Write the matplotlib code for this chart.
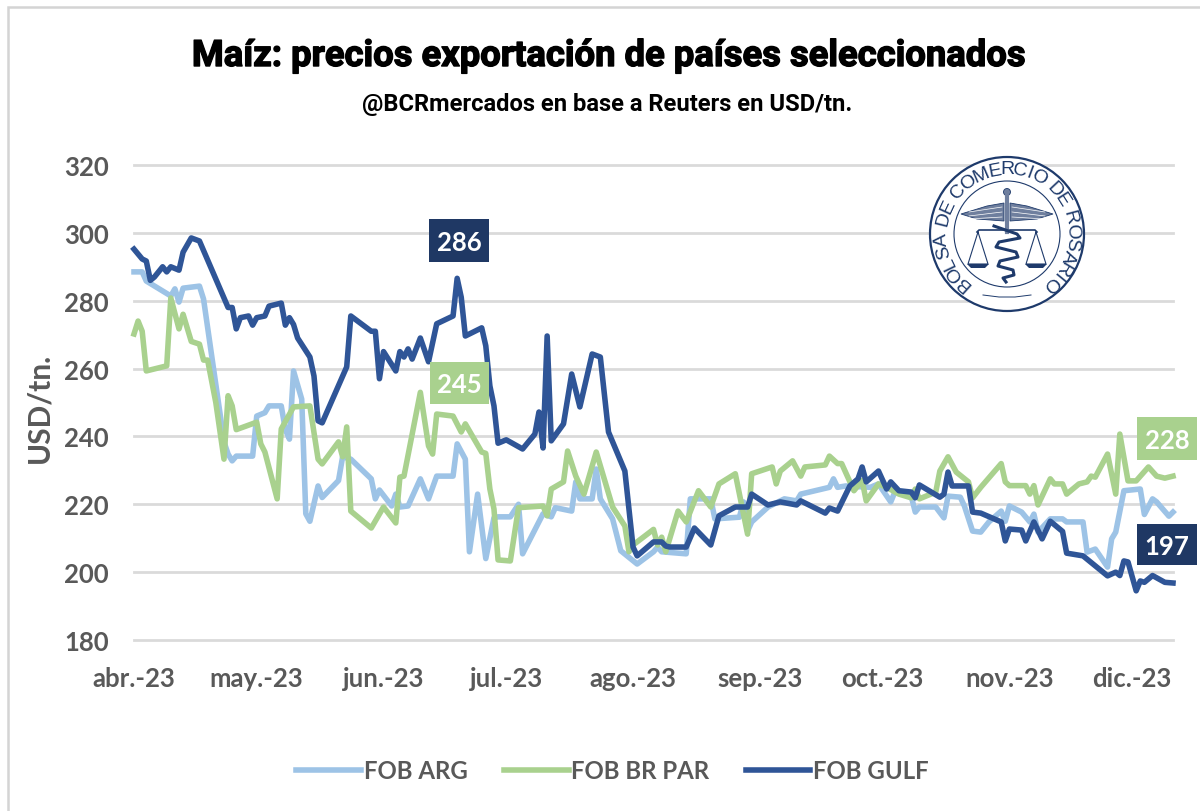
import matplotlib

matplotlib.use('Agg')
import matplotlib.pyplot as plt
import numpy as np
import pandas as pd
from matplotlib.patches import Circle, Polygon, Rectangle
import matplotlib.patheffects as pe

# Datos: dias desde el 1-abr-2023 y precio en USD/tn.
dias_arg = [0, 2, 3, 9, 10, 11, 12, 16, 17, 19, 21, 22, 23, 24, 25, 29, 30, 32, 33, 36,
            37, 38, 39, 41, 42, 43, 45, 46, 50, 51, 53, 58, 59, 60, 63, 64, 65, 67, 70, 72,
            74, 78, 79, 81, 82, 84, 86, 88, 89, 92, 94, 95, 100, 102, 103, 107, 108, 109, 112, 113,
            114, 117, 119, 123, 127, 128, 129, 135, 136, 141, 142, 148, 149, 150, 151, 155, 159, 162, 163, 170,
            171, 172, 174, 180, 182, 185, 186, 190, 191, 192, 196, 198, 199, 202, 203, 205, 207, 209, 212, 213,
            214, 217, 219, 220, 221, 224, 227, 228, 232, 233, 235, 238, 239, 240, 242, 246, 247, 249, 250, 253,
            254]
vals_arg = [288.5, 288.5, 285.8, 281.4, 283.5, 279.6, 283.7, 284.3, 280.5, 263.7, 247, 238.4, 234.8, 232.8, 234.2, 234.2, 246, 247, 249, 249,
            242, 239.2, 259.3, 251, 217.2, 215, 225.4, 222, 227, 234, 233.3, 227.5, 221.6, 224.2, 219.5, 223, 219.2, 219.5, 227.5, 221.6,
            228.3, 228.3, 237.8, 233.3, 206, 223, 204, 216, 216.3, 216.3, 220, 205.4, 217.2, 216.3, 219, 218, 226.6, 221.6, 221.6, 230.4,
            221.6, 215.7, 206.3, 202.4, 206, 207.4, 206, 205.4, 221.6, 221.6, 215.7, 216.2, 220.7, 212.1, 214.8, 219.2, 221.6, 221, 223, 225,
            227.5, 225, 225.4, 225, 226, 220.7, 223.6, 222.4, 217.7, 219.2, 219.2, 216, 222.4, 222.1, 219.5, 212.1, 211.8, 214.8, 218, 215,
            219.5, 217.7, 214.8, 217.1, 211.8, 215.7, 215.7, 214.8, 214.8, 205.9, 206.8, 201.5, 209.8, 211.8, 224, 224.5, 217, 221.6, 220.7, 216.5,
            217.7]

dias_br = [0, 1, 2, 3, 8, 9, 11, 12, 14, 16, 17, 18, 20, 22, 23, 24, 25, 30, 31, 32,
           35, 36, 39, 43, 45, 46, 50, 51, 52, 53, 58, 61, 64, 65, 66, 70, 72, 73, 74, 78,
           80, 81, 85, 86, 87, 88, 89, 92, 94, 100, 101, 102, 105, 106, 108, 110, 113, 117, 120, 121,
           122, 127, 128, 129, 130, 133, 135, 138, 141, 143, 147, 150, 151, 156, 157, 158, 161, 163, 164, 169,
           170, 172, 173, 176, 178, 179, 182, 184, 187, 190, 191, 192, 196, 197, 199, 201, 204, 205, 207, 212,
           213, 214, 218, 219, 220, 221, 224, 225, 227, 228, 231, 233, 234, 235, 238, 240, 241, 243, 245, 248,
           250, 252, 254]
vals_br = [270.2, 274, 271, 259.3, 260.8, 280.8, 271.7, 276, 268, 267.2, 262.5, 262.5, 250, 233.3, 252, 249, 242, 244.2, 237.8, 235.4,
           221.6, 242.2, 248.7, 249, 233.3, 231.9, 238.4, 234, 242.8, 218, 213, 219.2, 214.5, 228, 228.3, 253, 237.2, 234.8, 246.6, 246,
           241.3, 243.7, 235.4, 235, 224.5, 218.6, 203.6, 203.3, 219, 219.5, 216.6, 224.5, 226.6, 235.7, 228.3, 223, 235.4, 219.2, 213.6, 206,
           208, 212.6, 208, 210.3, 206, 218, 214.8, 224, 219.2, 226, 229, 211.2, 229, 231, 226, 229.8, 232.8, 228.3, 231, 231.6,
           234.2, 232, 232, 224, 227, 221, 226, 225, 223, 221.9, 224.5, 221.6, 223.6, 229.8, 234, 229.5, 226.6, 221.9, 225, 232,
           226.6, 225.5, 225.5, 223, 225.5, 219.8, 227.5, 226, 226, 223, 226, 226.6, 228.3, 228, 234.8, 223, 240.7, 226.9, 226.9, 231,
           228.3, 227.7, 228.3]

dias_gulf = [0, 2, 3, 4, 5, 7, 8, 9, 11, 12, 14, 16, 23, 24, 25, 26, 28, 29, 30, 32,
             33, 36, 37, 38, 39, 40, 43, 44, 45, 46, 52, 53, 58, 59, 60, 61, 64, 65, 66, 67,
             68, 70, 72, 74, 78, 79, 80, 81, 85, 86, 87, 88, 89, 91, 95, 98, 99, 100, 101, 102,
             105, 107, 109, 112, 114, 116, 120, 122, 123, 127, 129, 130, 131, 135, 137, 141, 143, 147, 150, 151,
             155, 158, 162, 163, 169, 170, 172, 175, 177, 178, 179, 182, 184, 185, 187, 190, 191, 192, 197, 198,
             199, 200, 204, 205, 207, 212, 213, 214, 217, 218, 220, 222, 224, 227, 228, 232, 238, 240, 241, 242,
             243, 245, 246, 247, 249, 252, 254]
vals_gulf = [295.2, 292.3, 291.7, 286, 287, 290, 288.5, 290, 289, 294.3, 298.5, 297.6, 278, 278, 271.7, 275, 275.5, 272.8, 275, 275.5,
             278.4, 279.3, 272.8, 275, 273, 269, 263.4, 257.8, 244.6, 244, 260.5, 275.5, 271, 271, 257, 265, 259.3, 265, 263.4, 265.8,
             262.8, 269, 262, 273.2, 275.5, 286.6, 281, 269.6, 272, 266.7, 254.9, 249, 238, 239, 236.3, 240.7, 247.2, 236.6, 269.6, 238.7,
             243.7, 258.4, 248.7, 264.3, 263.4, 241.3, 229.8, 207.4, 204.8, 208.9, 208.9, 207.7, 207.4, 207.4, 213, 208, 216.6, 219.2, 219.2, 223,
             219.8, 220.7, 219.8, 221, 217.4, 218.9, 218, 225.4, 227.5, 231, 226.6, 229.8, 224.5, 226.6, 224, 223.6, 221.9, 225.7, 222.1, 223,
             229.5, 225.4, 225.4, 217.7, 217.4, 214.8, 209.2, 212.7, 212.4, 209.2, 214.8, 209.8, 215, 212, 205.6, 204.8, 198.9, 200, 199, 203.3,
             203, 194.5, 197.4, 197, 199, 197, 196.8]

etiquetas_series = ['FOB ARG', 'FOB BR PAR', 'FOB GULF']
meses = ['2023-04-01', '2023-05-01', '2023-06-01', '2023-07-01', '2023-08-01',
         '2023-09-01', '2023-10-01', '2023-11-01', '2023-12-01']
etiquetas_meses = ['abr.-23', 'may.-23', 'jun.-23', 'jul.-23', 'ago.-23',
                   'sep.-23', 'oct.-23', 'nov.-23', 'dic.-23']
ticks_y = [180, 200, 220, 240, 260, 280, 300, 320]

titulo = 'Maíz: precios exportación de países seleccionados'
subtitulo = '@BCRmercados en base a Reuters en USD/tn.'
logo_texto = 'BOLSA DE COMERCIO DE ROSARIO'

C_ARG = '#9DC3E6'
C_BR = '#A9D18E'
C_GULF = '#2F5597'
C_NAVY = '#1F3864'
C_TXT = '#595959'
FUENTE = ['Lato', 'DejaVu Sans']
ANGOSTA = ['Roboto', 'Liberation Sans', 'DejaVu Sans']

W, H = 1200, 812
inicio = pd.Timestamp('2023-04-01')


def fechas(dias):
    return inicio + pd.to_timedelta(dias, unit='D')


def fx(px):
    return px / W


def fy(py):
    return 1 - py / H


fig = plt.figure(figsize=(W / 100, H / 100), dpi=100, facecolor='white')

# marco gris de la imagen original
fig.add_artist(Rectangle((fx(7.5), fy(H + 10)), 1.2, fy(7.5) - fy(H + 10), transform=fig.transFigure,
                         fill=False, edgecolor='#D4D4D4', linewidth=1.8))

ax = fig.add_axes([fx(134), fy(641), fx(1173 - 134), fy(166) - fy(641)])
ax.plot(fechas(dias_arg), vals_arg, color=C_ARG, lw=4.0, label=etiquetas_series[0], solid_joinstyle='round', clip_on=False, zorder=3)
ax.plot(fechas(dias_br), vals_br, color=C_BR, lw=4.0, label=etiquetas_series[1], solid_joinstyle='round', clip_on=False, zorder=4)
ax.plot(fechas(dias_gulf), vals_gulf, color=C_GULF, lw=4.0, label=etiquetas_series[2], solid_joinstyle='round', clip_on=False, zorder=5)

ax.set_xlim(inicio, fechas(254))
ax.set_ylim(180, 320)
ax.set_yticks(ticks_y)
ax.set_xticks(pd.to_datetime(meses))
ax.set_xticklabels(etiquetas_meses)
ax.tick_params(length=0, labelsize=18.5, labelcolor=C_TXT)
ax.tick_params(axis='y', pad=18)
ax.tick_params(axis='x', pad=19)
for lab in ax.get_xticklabels() + ax.get_yticklabels():
    lab.set_fontfamily(FUENTE)
    lab.set_fontweight('bold')
ax.grid(axis='y', color='#DADADA', lw=2.0, zorder=0)
ax.set_axisbelow(True)
for s in ax.spines.values():
    s.set_visible(False)
for gl in ax.get_ygridlines():
    gl.set_clip_on(False)

fig.text(fx(39), fy(408), 'USD/tn.', rotation=90, ha='center', va='center', color=C_TXT,
         fontsize=21.5, fontweight='bold', family=FUENTE)

leg = ax.legend(loc='center', bbox_to_anchor=(0.4605, (641 - 771.5) / 475), ncol=3, frameon=False,
                prop={'family': FUENTE, 'weight': 'bold', 'size': 17.3}, labelcolor=C_TXT,
                handlelength=2.7, handletextpad=0.12, columnspacing=1.5, borderpad=0)

t = fig.text(fx(608.5), fy(57), titulo, ha='center', va='center', color='black',
             fontsize=26.2, fontweight='bold', family=ANGOSTA)
t.set_path_effects([pe.withStroke(linewidth=1.0, foreground='black')])
fig.text(fx(607), fy(105), subtitulo, ha='center', va='center', color='black',
         fontsize=17.1, fontweight='bold', family=ANGOSTA)


def caja(x0, y0, x1, y1, texto, color):
    fig.add_artist(Rectangle((fx(x0), fy(y1)), fx(x1 - x0), fy(y0) - fy(y1), transform=fig.transFigure,
                             facecolor=color, edgecolor='none', zorder=6))
    fig.text(fx((x0 + x1) / 2), fy((y0 + y1) / 2 + 1.5), texto, ha='center', va='center', color='white',
             fontsize=18.5, fontweight='bold', family=FUENTE, zorder=7)


caja(429, 220, 489, 263, '286', C_NAVY)
caja(430, 363, 489, 405, '245', C_BR)
caja(1137, 418, 1197, 461, '228', C_BR)
caja(1137, 525, 1197, 566, '197', C_NAVY)

# sello de la Bolsa, en unidades de pixel respecto del centro
R = 80
lg = fig.add_axes([fx(1007 - R), fy(235 + R), fx(2 * R), fy(235 - R) - fy(235 + R)], zorder=8)
lg.set_xlim(-R, R)
lg.set_ylim(-R, R)
lg.axis('off')
C_SELLO = '#1E3A6B'
lg.add_patch(Circle((0, 0), 77, facecolor='white', edgecolor=C_SELLO, lw=1.6))
lg.add_patch(Circle((0, 0), 53, facecolor='none', edgecolor=C_SELLO, lw=0.8))
# avance aproximado de cada letra para repartirlas por el arco
anchos = {' ': 0.55, 'I': 0.5, 'M': 1.3, 'L': 0.85, 'E': 0.9}
pasos = np.array([anchos.get(c, 1.0) for c in logo_texto])
centros = np.cumsum(pasos) - pasos / 2
angulos = -138 + 276 * (centros - centros[0]) / (centros[-1] - centros[0])
for letra, ang in zip(logo_texto, angulos):
    th = np.radians(ang)
    lg.text(65 * np.sin(th), 65 * np.cos(th), letra, rotation=-ang, rotation_mode='anchor', ha='center', va='center',
            fontsize=14, color=C_SELLO, family=['Liberation Sans', 'DejaVu Sans'])
# alas
for signo in (-1, 1):
    lg.add_patch(Polygon([(signo * 3, 31), (signo * 20, 28), (signo * 46, 20), (signo * 30, 15), (signo * 3, 13)],
                         facecolor='#6F7F9E', edgecolor=C_SELLO, lw=0.6))
    for y0, y1 in ((27, 23), (22, 19), (17, 16)):
        lg.plot([signo * 5, signo * 38], [y0, y1 - 1], color='white', lw=0.5)
    # balanza
    lg.plot([signo * 3, signo * 28, signo * 30], [4, 4, 2], color=C_SELLO, lw=1.2)
    xp = signo * 29
    lg.plot([xp, xp - 10, xp + 10, xp], [2, -30, -30, 2], color=C_SELLO, lw=0.8)
    lg.add_patch(Polygon([(xp - 11, -30), (xp + 11, -30), (xp + 7, -34), (xp - 7, -34)], facecolor=C_SELLO, edgecolor='none'))
# vara y serpiente
lg.plot([0, 0], [42, 2], color='#6F7F9E', lw=3.0)
lg.add_patch(Circle((0, 42), 3.5, facecolor='#6F7F9E', edgecolor=C_SELLO, lw=0.6))
lg.plot([-13, 10, 13, -8, -11, 9, 11, -7, -9, 6, 7, -4, -1],
        [8, 0, -4, -8, -13, -18, -23, -27, -32, -36, -41, -44, -48], color=C_SELLO, lw=2.2, solid_joinstyle='round')
lg.plot([-24, -8, 8, 24], [-61, -63, -63, -61], color=C_SELLO, lw=0.7)

fig.savefig('out.png', dpi=100, facecolor='white')
plt.close(fig)
